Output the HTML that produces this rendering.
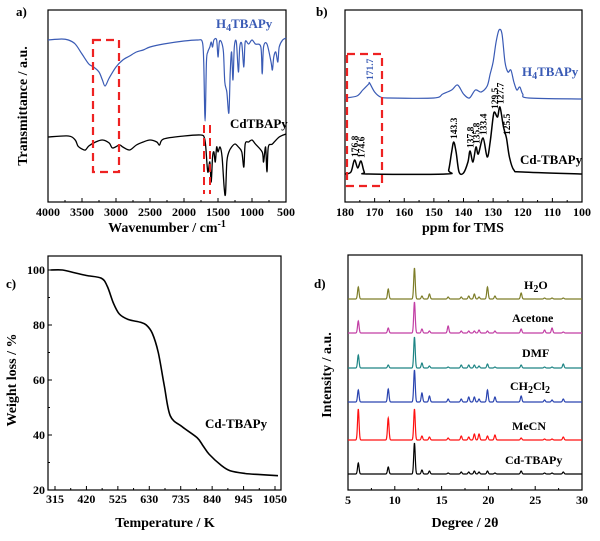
<!DOCTYPE html>
<html><head><meta charset="utf-8"><style>
html,body{margin:0;padding:0;background:#fff;}
svg{display:block;font-family:"Liberation Serif",serif;font-weight:bold;}
</style></head><body>
<svg id="fig" width="600" height="541" viewBox="0 0 600 541" xmlns="http://www.w3.org/2000/svg">
<rect width="600" height="541" fill="#fff"/>
<text x="16" y="16" font-size="13">a)</text>
<text x="316" y="16" font-size="13">b)</text>
<text x="6" y="288" font-size="13">c)</text>
<text x="314" y="288" font-size="13">d)</text>

<g id="pa"></g>
<g id="pb"></g>
<g id="pc"></g>
<g id="pd"></g>
</svg>
<script>
// ---------- Panel a data (wavenumber, relative transmittance) ----------
const irWaveBlue = [4000,3800,3700,3600,3500,3400,3330,3250,3200,3160,3100,3000,2900,2800,2700,2600,2500,2300,2000,1800,1730,1710,1690,1670,1650,1620,1600,1580,1560,1520,1500,1480,1450,1420,1400,1370,1340,1320,1300,1280,1260,1230,1200,1180,1150,1120,1100,1050,1000,950,870,850,830,780,720,700,680,650,620,600,550,500];
const irValBlue = [162,163,162,158,148,138,135,130,122,116,124,135,142,146,150,152,155,158,161,162,160,140,81,140,150,155,160,155,162,162,145,160,160,150,120,110,89,130,150,122,155,160,130,155,158,135,160,158,162,158,155,128,155,158,140,132,145,150,140,155,162,164];
const irWaveBlack = [4000,3700,3600,3560,3500,3450,3400,3300,3200,3100,3050,2950,2900,2800,2700,2600,2500,2400,2360,2300,2000,1750,1700,1680,1650,1620,1600,1580,1560,1540,1520,1500,1470,1440,1410,1390,1370,1340,1300,1250,1200,1150,1120,1100,1050,1000,950,850,830,800,780,760,700,600,500];
const irValBlack = [65,66,62,56,53,52,56,60,62,59,54,57,55,52,57,60,62,60,57,63,66,67,64,55,30,40,20,45,50,40,55,50,55,45,15,8,40,50,55,58,55,50,35,58,60,62,58,50,40,55,30,55,58,65,68];
const irTicks = [4000,3500,3000,2500,2000,1500,1000,500];

// ---------- Panel b data (ppm, intensity) ----------
const nmrPpmBlue = [180,176,174,172,171.7,170,168,165,150,147,144,142,140,138,136,134,132,131,130,129,128,127,126,125,124,123,122,121,120,118,100];
const nmrValBlue = [104,106,112,118,119,110,105,104,104,108,112,117,108,104,112,110,116,128,140,160,172,168,140,130,132,120,112,115,108,104,103];
const nmrPpmBlack = [180,178,176.8,175.7,174.6,173.5,172,146,145,144,143.3,142.5,141.5,140,138.5,137.8,136.8,135.8,135,133.4,132,131,130,129.5,128.5,127.7,126.5,125.5,124.5,123,120,100];
const nmrValBlack = [28,30,42,34,41,30,28,28,32,50,60,50,30,29,40,51,40,55,48,64,45,60,85,90,85,95,75,64,45,32,30,28];
const nmrTicks = [180,170,160,150,140,130,120,110,100];
const nmrLabels = ["176.8","174.6","143.3","137.8","135.8","133.4","129.5","127.7","125.5"];
const nmrLabelPpm = [176.8,174.6,143.3,137.8,135.8,133.4,129.5,127.7,125.5];
const nmrLabelVal = [42,41,60,51,55,64,90,95,64];

// ---------- Panel c data (K, %) ----------
const tgaTemp = [300,340,380,420,470,490,510,530,560,600,620,640,660,680,700,740,790,810,830,870,900,950,1000,1060];
const tgaWeight = [100,100,99,98,97,94,88,84,82,81,80,77,70,58,47,43,39,36,33,29,27,26,25.6,25.2];
const tgaXTicks = [315,420,525,630,735,840,945,1050];
const tgaYTicks = [20,40,60,80,100];

// ---------- Panel d data ----------
const xrdPeaks = [6.1,9.3,12.1,12.9,13.7,15.7,17.1,17.9,18.5,19.0,19.9,20.7,23.5,26.0,26.8,28.0];
const xrdH2O = [12,10,31,3,5,2,2,3,5,2,12,3,6,1,1,1];
const xrdAcetone = [12,5,31,4,2,7,2,2,2,3,2,2,4,3,5,1];
const xrdDMF = [13,3,31,5,2,1,3,3,3,2,4,1,3,1,1,4];
const xrdCH2Cl2 = [12,13,32,9,6,3,3,5,5,3,12,5,6,2,2,3];
const xrdMeCN = [31,22,31,4,3,2,4,3,6,6,4,5,2,1,1,3];
const xrdCd = [11,7,31,4,3,1,2,2,3,2,3,1,3,1,1,2];
const xrdTicks = [5,10,15,20,25,30];

const NS="http://www.w3.org/2000/svg";
function mk(parent,tag,attrs,text){const e=document.createElementNS(NS,tag);for(const k in attrs)e.setAttribute(k,attrs[k]);if(text!==undefined)e.textContent=text;parent.appendChild(e);return e;}
function lin(d0,d1,r0,r1){return v=>r0+(v-d0)/(d1-d0)*(r1-r0);}
function smooth(xs,ys,sx,sy){
  const P=xs.map((x,i)=>[sx(x),sy(ys[i])]);
  let d="M"+P[0][0].toFixed(2)+","+P[0][1].toFixed(2);
  for(let i=0;i<P.length-1;i++){
    const p0=P[Math.max(0,i-1)],p1=P[i],p2=P[i+1],p3=P[Math.min(P.length-1,i+2)];
    const t=0.16;
    const c1=[p1[0]+(p2[0]-p0[0])*t,p1[1]+(p2[1]-p0[1])*t];
    const c2=[p2[0]-(p3[0]-p1[0])*t,p2[1]-(p3[1]-p1[1])*t];
    d+=" C"+c1[0].toFixed(2)+","+c1[1].toFixed(2)+" "+c2[0].toFixed(2)+","+c2[1].toFixed(2)+" "+p2[0].toFixed(2)+","+p2[1].toFixed(2);
  }
  return d;
}

// ===== Panel a =====
(function(){
  const g=document.getElementById('pa');
  const L=48,R=286,T=10,B=202;
  const sx=lin(4000,500,L,R), sy=lin(0,192,B,T);
  let e=mk(g,'rect',{x:L,y:T,width:R-L,height:B-T,fill:'none',stroke:'#000','stroke-width':1.2});
  
  irTicks.forEach(t=>{const x=sx(t);mk(g,'line',{x1:x,y1:B,x2:x,y2:B-4,stroke:'#000'});
    e=mk(g,'text',{x:x,y:B+14,'font-size':12,'text-anchor':'middle'},t);
    });
  for(let t=3750;t>500;t-=500){mk(g,'line',{x1:sx(t),y1:B,x2:sx(t),y2:B-2,stroke:'#000'});}
  e=mk(g,'path',{d:smooth(irWaveBlue,irValBlue,sx,sy),fill:'none',stroke:'#3a5bb5','stroke-width':1.2});
  
  e=mk(g,'path',{d:smooth(irWaveBlack,irValBlack,sx,sy),fill:'none',stroke:'#000','stroke-width':1.3});
  
  e=mk(g,'rect',{x:93,y:40,width:26,height:132,fill:'none',stroke:'#ee2222','stroke-width':2.2,'stroke-dasharray':'8,5'});
  
  mk(g,'line',{x1:204,y1:125,x2:204,y2:194,stroke:'#ee2222','stroke-width':2,'stroke-dasharray':'8,5'});
  mk(g,'line',{x1:210,y1:125,x2:210,y2:194,stroke:'#ee2222','stroke-width':2,'stroke-dasharray':'8,5'});
  e=mk(g,'text',{x:216,y:28,'font-size':13,fill:'#3a5bb5'});e.innerHTML='H<tspan font-size="10" dy="3">4</tspan><tspan dy="-3">TBAPy</tspan>';
  
  e=mk(g,'text',{x:230,y:128,'font-size':13},'CdTBAPy');
  
  e=mk(g,'text',{x:167,y:232,'font-size':14,'text-anchor':'middle'});e.innerHTML='Wavenumber / cm<tspan font-size="10" dy="-5">-1</tspan>';
  
  e=mk(g,'text',{x:0,y:0,'font-size':14,'text-anchor':'middle',transform:'translate(27,106) rotate(-90)'},'Transmittance / a.u.');
  
})();

// ===== Panel b =====
(function(){
  const g=document.getElementById('pb');
  const L=345,R=582,T=10,B=202;
  const sx=lin(180,100,L,R), sy=lin(0,192,B,T);
  let e=mk(g,'rect',{x:L,y:T,width:R-L,height:B-T,fill:'none',stroke:'#000','stroke-width':1.2});
  
  nmrTicks.forEach(t=>{const x=sx(t);mk(g,'line',{x1:x,y1:B,x2:x,y2:B-4,stroke:'#000'});
    e=mk(g,'text',{x:x,y:B+14,'font-size':12,'text-anchor':'middle'},t);
    });
  for(let t=175;t>100;t-=10){mk(g,'line',{x1:sx(t),y1:B,x2:sx(t),y2:B-2,stroke:'#000'});}
  e=mk(g,'path',{d:smooth(nmrPpmBlue,nmrValBlue,sx,sy),fill:'none',stroke:'#3a5bb5','stroke-width':1.2});
  
  e=mk(g,'path',{d:smooth(nmrPpmBlack,nmrValBlack,sx,sy),fill:'none',stroke:'#000','stroke-width':1.5});
  
  nmrLabels.forEach((s,i)=>{const x=sx(nmrLabelPpm[i])+3.5,y=sy(nmrLabelVal[i])-3;
    e=mk(g,'text',{x:0,y:0,'font-size':9.5,transform:`translate(${x.toFixed(1)},${y.toFixed(1)}) rotate(-90)`},s);
    });
  e=mk(g,'text',{x:0,y:0,'font-size':9.5,fill:'#3a5bb5',transform:`translate(${(sx(171.7)+3.5).toFixed(1)},${(sy(119)-3).toFixed(1)}) rotate(-90)`},'171.7');
  
  e=mk(g,'rect',{x:347,y:54,width:35,height:132,fill:'none',stroke:'#ee2222','stroke-width':2.2,'stroke-dasharray':'8,5'});
  
  e=mk(g,'text',{x:522,y:76,'font-size':13,fill:'#3a5bb5'});e.innerHTML='H<tspan font-size="10" dy="3">4</tspan><tspan dy="-3">TBAPy</tspan>';
  
  e=mk(g,'text',{x:520,y:164,'font-size':13},'Cd-TBAPy');
  
  e=mk(g,'text',{x:463,y:232,'font-size':14,'text-anchor':'middle'},'ppm for TMS');
  
})();

// ===== Panel c =====
(function(){
  const g=document.getElementById('pc');
  const L=48,R=281,T=256,B=490;
  const sx=lin(315,1050,55,275), sy=lin(20,100,490,270);
  let e=mk(g,'rect',{x:L,y:T,width:R-L,height:B-T,fill:'none',stroke:'#000','stroke-width':1.2});
  
  tgaXTicks.forEach(t=>{const x=sx(t);mk(g,'line',{x1:x,y1:B,x2:x,y2:B-4,stroke:'#000'});
    e=mk(g,'text',{x:x,y:B+13,'font-size':12,'text-anchor':'middle'},t);
    });
  for(let t=367.5;t<1050;t+=105){mk(g,'line',{x1:sx(t),y1:B,x2:sx(t),y2:B-2,stroke:'#000'});}
  tgaYTicks.forEach(t=>{const y=sy(t);mk(g,'line',{x1:L,y1:y,x2:L+4,y2:y,stroke:'#000'});
    e=mk(g,'text',{x:L-3,y:y+4,'font-size':12,'text-anchor':'end'},t);
    });
  for(let t=30;t<100;t+=20){mk(g,'line',{x1:L,y1:sy(t),x2:L+2,y2:sy(t),stroke:'#000'});}
  e=mk(g,'path',{d:smooth(tgaTemp,tgaWeight,v=>Math.max(L,Math.min(R,sx(v))),sy),fill:'none',stroke:'#000','stroke-width':1.6,'stroke-linejoin':'round'});
  
  e=mk(g,'text',{x:205,y:428,'font-size':13},'Cd-TBAPy');
  
  e=mk(g,'text',{x:165,y:527,'font-size':14,'text-anchor':'middle'},'Temperature /  K');
  
  e=mk(g,'text',{x:0,y:0,'font-size':14,'text-anchor':'middle',transform:'translate(16,380) rotate(-90)'},'Weight loss / %');
  
})();

// ===== Panel d =====
(function(){
  const g=document.getElementById('pd');
  const L=348,R=582,T=255,B=490;
  const sx=lin(5,30,L,R);
  let e=mk(g,'rect',{x:L,y:T,width:R-L,height:B-T,fill:'none',stroke:'#000','stroke-width':1.2});
  
  xrdTicks.forEach(t=>{const x=sx(t);mk(g,'line',{x1:x,y1:B,x2:x,y2:B-4,stroke:'#000'});
    e=mk(g,'text',{x:x,y:B+14,'font-size':12,'text-anchor':'middle'},t);
    });
  for(let t=7.5;t<30;t+=5){mk(g,'line',{x1:sx(t),y1:B,x2:sx(t),y2:B-2,stroke:'#000'});}
  const series=[
    {h:xrdH2O,base:299,col:'#7d7d28',name:'h2o',label:'H<tspan font-size="10" dy="3">2</tspan><tspan dy="-3">O</tspan>',lx:524,ly:289},
    {h:xrdAcetone,base:333,col:'#c23fa5',name:'acetone',label:'Acetone',lx:512,ly:322},
    {h:xrdDMF,base:368,col:'#1e8585',name:'dmf',label:'DMF',lx:522,ly:357},
    {h:xrdCH2Cl2,base:402,col:'#2a44b0',name:'ch2cl2',label:'CH<tspan font-size="10" dy="3">2</tspan><tspan dy="-3">Cl</tspan><tspan font-size="10" dy="3">2</tspan>',lx:510,ly:390},
    {h:xrdMeCN,base:440,col:'#ff1010',name:'mecn',label:'MeCN',lx:512,ly:430},
    {h:xrdCd,base:474,col:'#000',name:'cdtbapy',label:'Cd-TBAPy',lx:505,ly:464}
  ];
  series.forEach(s=>{
    const pts=[];
    for(let x=5;x<=30.001;x+=0.02){let y=0;xrdPeaks.forEach((p,i)=>{const d=(x-p)/0.08;y+=s.h[i]*Math.exp(-0.5*d*d);});
      pts.push(sx(x).toFixed(2)+","+(s.base-y).toFixed(2));}
    e=mk(g,'polyline',{points:pts.join(" "),fill:'none',stroke:s.col,'stroke-width':1.2});
    
    e=mk(g,'text',{x:s.lx,y:s.ly,'font-size':12});e.innerHTML=s.label;
    
  });
  e=mk(g,'text',{x:465,y:527,'font-size':14,'text-anchor':'middle'},'Degree / 2θ');
  
  e=mk(g,'text',{x:0,y:0,'font-size':14,'text-anchor':'middle',transform:'translate(331,375) rotate(-90)'},'Intensity / a.u.');
  
})();
</script>
</body></html>
